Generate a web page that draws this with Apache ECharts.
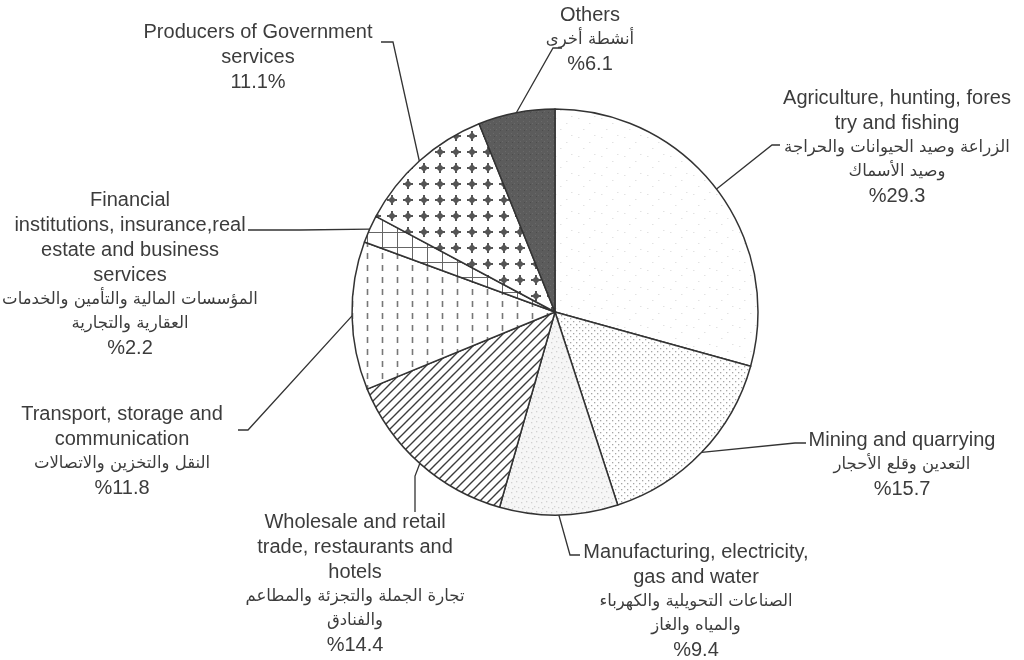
<!DOCTYPE html>
<html>
<head>
<meta charset="utf-8">
<script src="https://cdn.jsdelivr.net/npm/echarts@6/dist/echarts.min.js"></script>
<style>
  html, body { margin: 0; padding: 0; background: #fff; }
  #chart { width: 1024px; height: 660px; }
</style>
</head>
<body>
<div id="chart"></div>
<script>
// GDP shares by economic activity (percent), clockwise from 12 o'clock
const sectorsEn = [
  'Agriculture, hunting, fores\ntry and fishing',
  'Mining and quarrying',
  'Manufacturing, electricity,\ngas and water',
  'Wholesale and retail\ntrade, restaurants and\nhotels',
  'Transport, storage and\ncommunication',
  'Financial\ninstitutions, insurance,real\nestate and business\nservices',
  'Producers of Government\nservices',
  'Others'
];
const sectorsAr = [
  'الزراعة وصيد الحيوانات والحراجة\nوصيد الأسماك',
  'التعدين وقلع الأحجار',
  'الصناعات التحويلية والكهرباء\nوالمياه والغاز',
  'تجارة الجملة والتجزئة والمطاعم\nوالفنادق',
  'النقل والتخزين والاتصالات',
  'المؤسسات المالية والتأمين والخدمات\nالعقارية والتجارية',
  '',
  'أنشطة أخرى'
];
const shares = [29.3, 15.7, 9.4, 14.4, 11.8, 2.2, 11.1, 6.1];

// Label placement: block anchor (centre-top) and leader line bend / end points
const labelSpots = [
  { x: 897, y: 86,  bend: [772, 145], end: [780, 145] },
  { x: 902, y: 428, bend: [795, 443], end: [806, 443] },
  { x: 696, y: 540, bend: [570, 555], end: [580, 555] },
  { x: 355, y: 510, bend: [415, 476], end: [415, 512] },
  { x: 122, y: 402, bend: [248, 430], end: [238, 430] },
  { x: 130, y: 188, bend: [300, 230], end: [248, 230] },
  { x: 258, y: 20,  bend: [393, 42],  end: [381, 42] },
  { x: 590, y: 3,   bend: [553, 48],  end: [562, 48] }
];

// Monochrome fill patterns for the slices
function tile(w, h, bg, draw) {
  const c = document.createElement('canvas');
  c.width = w; c.height = h;
  const g = c.getContext('2d');
  if (bg) { g.fillStyle = bg; g.fillRect(0, 0, w, h); }
  draw(g);
  return c;
}
const patterns = [
  tile(23, 19, '#ffffff', g => {
    g.fillStyle = '#e2e2e2';
    [[3, 4], [14, 9], [8, 15], [19, 2]].forEach(([x, y]) => g.fillRect(x, y, 1.5, 1));
  }),
  tile(6, 6, '#ffffff', g => {
    g.fillStyle = '#a6a6a6';
    g.fillRect(0, 0, 1.3, 1.3);
    g.fillRect(3, 3, 1.3, 1.3);
  }),
  tile(10, 10, '#f6f6f6', g => {
    g.fillStyle = '#d0d0d0';
    [[1, 2], [6, 1], [4, 6], [8, 7], [2, 8]].forEach(([x, y]) => g.fillRect(x, y, 1.3, 1.3));
  }),
  tile(9, 9, '#ffffff', g => {
    g.strokeStyle = '#3c3c3c'; g.lineWidth = 1.4;
    g.beginPath();
    g.moveTo(-1, 10); g.lineTo(10, -1);
    g.moveTo(-1, 1); g.lineTo(1, -1);
    g.moveTo(8, 10); g.lineTo(10, 8);
    g.stroke();
  }),
  tile(15, 12, '#ffffff', g => {
    g.strokeStyle = '#777777'; g.lineWidth = 1.6;
    g.beginPath(); g.moveTo(7.5, 1); g.lineTo(7.5, 7); g.stroke();
  }),
  tile(15, 15, '#ffffff', g => {
    g.strokeStyle = '#666666'; g.lineWidth = 1;
    g.beginPath();
    g.moveTo(7.5, 0); g.lineTo(7.5, 15);
    g.moveTo(0, 7.5); g.lineTo(15, 7.5);
    g.stroke();
  }),
  tile(16, 16, '#ffffff', g => {
    g.fillStyle = '#555555';
    g.beginPath();
    g.moveTo(8, 4); g.lineTo(12, 8); g.lineTo(8, 12); g.lineTo(4, 8); g.closePath();
    g.fill();
    g.fillRect(7, 3, 2, 10);
    g.fillRect(3, 7, 10, 2);
  }),
  tile(6, 6, '#5c5c5c', g => {
    g.fillStyle = '#6a6a6a'; g.fillRect(1, 1, 1, 1); g.fillRect(4, 3, 1, 1);
    g.fillStyle = '#4c4c4c'; g.fillRect(2, 4, 1, 1);
  })
];

const pieCenter = [555, 312];
const pieRadius = 203;

function labelText(i) {
  const parts = [];
  sectorsEn[i].split('\n').forEach(s => parts.push('{en|' + s + '}'));
  if (sectorsAr[i]) sectorsAr[i].split('\n').forEach(s => parts.push('{ar|' + s + '}'));
  const v = shares[i].toFixed(1);
  parts.push('{pct|' + (sectorsAr[i] ? '%' + v : v + '%') + '}');
  return parts.join('\n');
}

// Point on the rim at the middle angle of a slice
function rimPoint(i) {
  const total = shares.reduce((a, b) => a + b, 0);
  let before = 0;
  for (let k = 0; k < i; k++) before += shares[k];
  const a = (before + shares[i] / 2) / total * Math.PI * 2;
  return [pieCenter[0] + pieRadius * Math.sin(a), pieCenter[1] - pieRadius * Math.cos(a)];
}

const chart = echarts.init(document.getElementById('chart'), null, { renderer: 'canvas' });
chart.setOption({
  backgroundColor: '#ffffff',
  animation: false,
  series: [{
    type: 'pie',
    center: pieCenter,
    radius: pieRadius,
    startAngle: 90,
    clockwise: true,
    emphasis: { disabled: true },
    data: shares.map((v, i) => ({
      value: v,
      name: sectorsEn[i],
      itemStyle: { color: { image: patterns[i], repeat: 'repeat' } }
    })),
    itemStyle: { borderColor: '#333333', borderWidth: 1.5 },
    label: {
      show: true,
      position: 'outside',
      formatter: p => labelText(p.dataIndex),
      color: '#3c3c3c',
      rich: {
        en: { fontFamily: 'Liberation Sans, Arial, sans-serif', fontSize: 20, lineHeight: 25, color: '#3c3c3c' },
        ar: { fontFamily: 'DejaVu Sans, Noto Sans, sans-serif', fontSize: 16.5, lineHeight: 24, color: '#3c3c3c' },
        pct: { fontFamily: 'Liberation Sans, Arial, sans-serif', fontSize: 20, lineHeight: 25, color: '#3c3c3c' }
      }
    },
    labelLine: {
      show: true,
      length: 20,
      length2: 10,
      lineStyle: { color: '#333333', width: 1.3 }
    },
    labelLayout: params => {
      const i = params.dataIndex;
      const s = labelSpots[i];
      const start = (params.labelLinePoints && params.labelLinePoints[0]) || rimPoint(i);
      return {
        x: s.x,
        y: s.y,
        align: 'center',
        verticalAlign: 'top',
        labelLinePoints: [start, s.bend, s.end]
      };
    }
  }]
});
</script>
</body>
</html>
